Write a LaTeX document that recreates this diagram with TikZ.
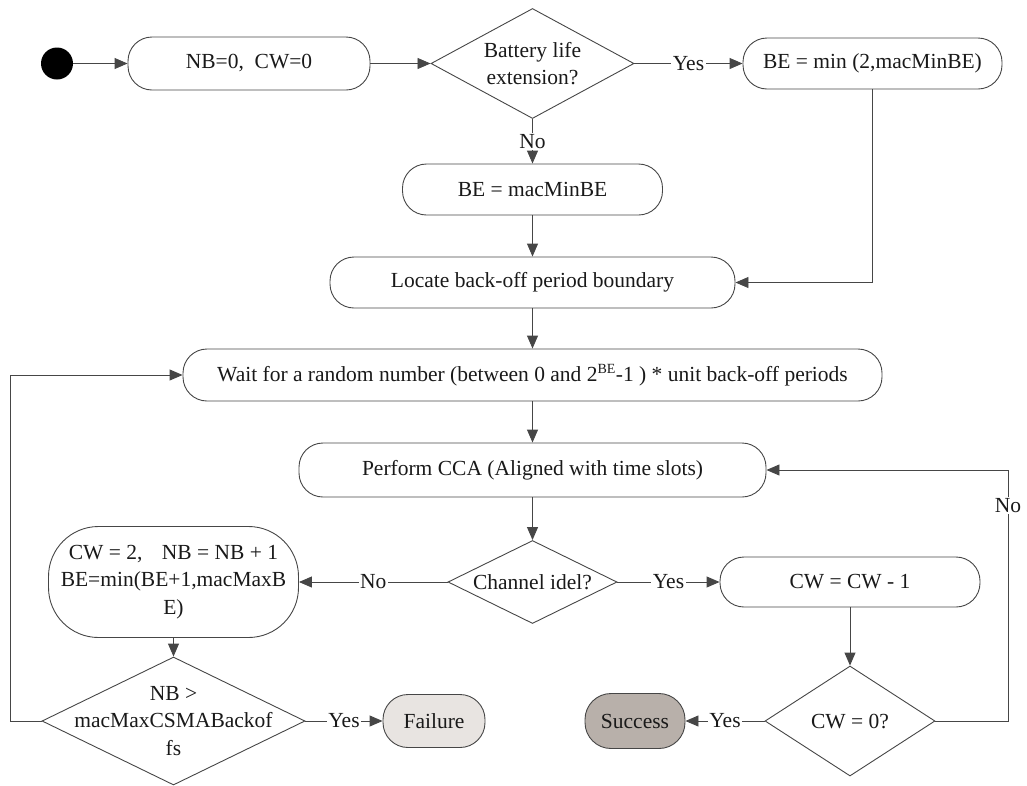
\documentclass[tikz,border=0pt]{standalone}
\usepackage{fontspec}
\setmainfont{Liberation Serif}
\usetikzlibrary{shapes.geometric,arrows.meta}
\definecolor{inkline}{RGB}{70,70,70}
\definecolor{failfill}{RGB}{232,228,225}
\definecolor{succfill}{RGB}{184,176,170}
\begin{document}
\begin{tikzpicture}[x=1pt,y=-1pt,
  font=\fontsize{21.5}{27.5}\selectfont,
  every node/.style={text=black!90},
  flow/.style={draw=inkline, line width=0.9pt, -{Triangle[length=13pt,width=11pt]}},
  box/.style={draw=inkline, line width=0.9pt, rectangle, rounded corners=24pt,
              inner sep=0pt, align=center},
  dec/.style={draw=inkline, line width=0.9pt, diamond, inner sep=0pt},
  lbl/.style={fill=white, inner sep=1.5pt}
]
\useasboundingbox (0,0) rectangle (1027,785);

% start and initialisation
\node[circle, fill=black, minimum size=32pt, inner sep=0pt] (start) at (57,63.5) {};
\node[box, minimum width=242pt, minimum height=53pt] (init) at (249,63.5) {NB=0,\ \ CW=0};
\node[dec, minimum width=203pt, minimum height=110pt,
      label={[align=center]center:{Battery life\\extension?}}] (batt) at (532.5,63.5) {};
\node[box, minimum width=259pt, minimum height=51pt] (bemin) at (872.5,63.5) {BE = min (2,macMinBE)};
\node[box, minimum width=260pt, minimum height=51pt] (bemac) at (532.5,189.5) {BE = macMinBE};

% back-off
\node[box, minimum width=405pt, minimum height=51pt] (locate) at (532.5,282.5) {Locate back-off period boundary};
\node[box, minimum width=699pt, minimum height=52pt] (wait) at (532.5,375)
  {Wait for a random number (between 0 and 2\textsuperscript{\fontsize{14}{14}\selectfont BE}-1 ) * unit back-off periods};
\node[box, minimum width=467pt, minimum height=54pt] (cca) at (532.5,470) {Perform CCA (Aligned with time slots)};
\node[dec, minimum width=169pt, minimum height=83pt,
      label={center:Channel idel?}] (chan) at (532.5,582) {};

% busy channel branch
\node[box, rounded corners=50pt, minimum width=250pt, minimum height=111pt] (cw2) at (173.5,582)
  {CW = 2,\hspace{0.9em}NB = NB + 1\\BE=min(BE+1,macMaxB\\E)};
\node[dec, minimum width=263pt, minimum height=128pt,
      label={[align=center]center:{NB \textgreater\\macMaxCSMABackof\\fs}}] (nbd) at (173.5,721) {};
\node[box, fill=failfill, rounded corners=25pt, minimum width=102pt, minimum height=53pt] (fail) at (434,721) {Failure};

% idle channel branch
\node[box, minimum width=260pt, minimum height=50pt] (cwm1) at (850,582) {CW = CW - 1};
\node[dec, minimum width=170pt, minimum height=110pt,
      label={center:CW = 0?}] (cw0) at (850,721) {};
\node[box, fill=succfill, rounded corners=26pt, minimum width=100pt, minimum height=55pt] (succ) at (635,721) {Success};

% loop corners
\coordinate (rb) at (1008,721);
\coordinate (rt) at (1008,470);
\coordinate (lb) at (10,721);
\coordinate (lt) at (10,375);

% connectors
\draw[flow] (start) -- (init);
\draw[flow] (init) -- (batt);
\draw[flow] (batt) -- node[lbl]{Yes} (bemin);
\draw[flow] (batt) -- node[lbl]{No} (bemac);
\draw[flow] (bemac) -- (locate);
\draw[flow] (bemin.south) |- (locate.east);
\draw[flow] (locate) -- (wait);
\draw[flow] (wait) -- (cca);
\draw[flow] (cca) -- (chan);
\draw[flow] (chan) -- node[lbl]{No} (cw2);
\draw[flow] (chan) -- node[lbl]{Yes} (cwm1);
\draw[flow] (cwm1) -- (cw0);
\draw[flow] (cw2) -- (nbd);
\draw[flow] (nbd) -- node[lbl]{Yes} (fail);
\draw[flow] (cw0) -- node[lbl]{Yes} (succ);
\draw[flow] (cw0.east) -- (rb) -- node[lbl, pos=0.86]{No} (rt) -- (cca.east);
\draw[flow] (nbd.west) -- (lb) -- (lt) -- (wait.west);
\end{tikzpicture}
\end{document}
